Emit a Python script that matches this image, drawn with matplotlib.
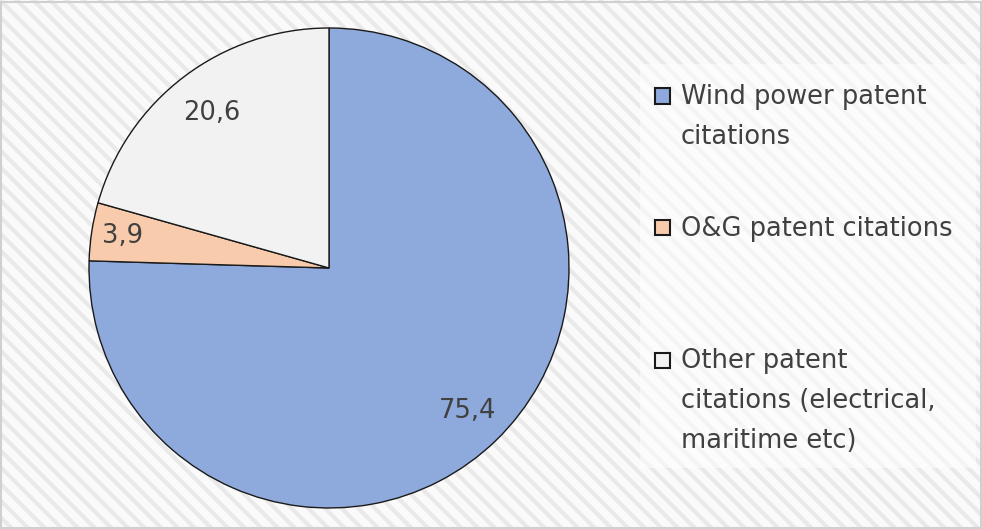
import numpy as np
import matplotlib
matplotlib.use("Agg")
import matplotlib.pyplot as plt
from matplotlib.patches import Rectangle

categories = ["Wind power patent\ncitations", "O&G patent citations",
              "Other patent\ncitations (electrical,\nmaritime etc)"]
values = [75.4, 3.9, 20.6]
value_labels = ["75,4", "3,9", "20,6"]
colors = ["#8EA9DB", "#F8CBAD", "#F2F2F2"]
label_dist = [0.83, 0.87, 0.81]

plt.rcParams['font.family'] = ['DejaVu Sans']
plt.rcParams['hatch.linewidth'] = 3.0

W, H = 982, 529
fig = plt.figure(figsize=(W / 100, H / 100), dpi=100)
fig.patch.set_facecolor('white')

# hatched background
bg = Rectangle((0, 0), 1, 1, transform=fig.transFigure,
               facecolor='#fafafa', edgecolor='#e9e9e9', hatch='\\\\', linewidth=0, zorder=-3)
fig.patches.append(bg)
border = Rectangle((1 / W, 1 / H), 1 - 2.5 / W, 1 - 2.5 / H, transform=fig.transFigure,
                   facecolor='none', edgecolor='#d0d0d0', linewidth=1.5, zorder=-2)
fig.patches.append(border)
# legend background (lighter)
lgbg = Rectangle((640 / W, 1 - 468 / H), 336 / W, 404 / H, transform=fig.transFigure,
                 facecolor='white', edgecolor='none', alpha=0.5, zorder=-1)
fig.patches.append(lgbg)

cx, cy, r = 329, 268, 240
ax = fig.add_axes([(cx - r) / W, (H - cy - r) / H, 2 * r / W, 2 * r / H])
ax.set_zorder(2)
ax.set_facecolor('none')
wedges, _ = ax.pie(values, colors=colors, startangle=90, counterclock=False,
                   radius=1.0, wedgeprops=dict(edgecolor='#1a1a1a', linewidth=1.0))
ax.set_xlim(-1.0, 1.0)
ax.set_ylim(-1.0, 1.0)
ax.set_aspect('auto')
ax.axis('off')

for w, lab, d in zip(wedges, value_labels, label_dist):
    ang = np.deg2rad((w.theta1 + w.theta2) / 2)
    ax.text(d * np.cos(ang), d * np.sin(ang), lab, ha='center', va='center',
            fontsize=18.5, color='#404040')

# legend
entry_y = [96, 228, 360]
for lab, col, y in zip(categories, colors, entry_y):
    fig.patches.append(Rectangle((655 / W, 1 - (y + 7.5) / H), 15 / W, 15 / H,
                                 transform=fig.transFigure, facecolor=col,
                                 edgecolor='#1a1a1a', linewidth=1.5, zorder=3))
    fig.text(681 / W, 1 - (y - 12.5) / H, lab, ha='left', va='top', fontsize=18.5,
             color='#404040', linespacing=1.7, zorder=3)

fig.savefig('out.png', dpi=100)
